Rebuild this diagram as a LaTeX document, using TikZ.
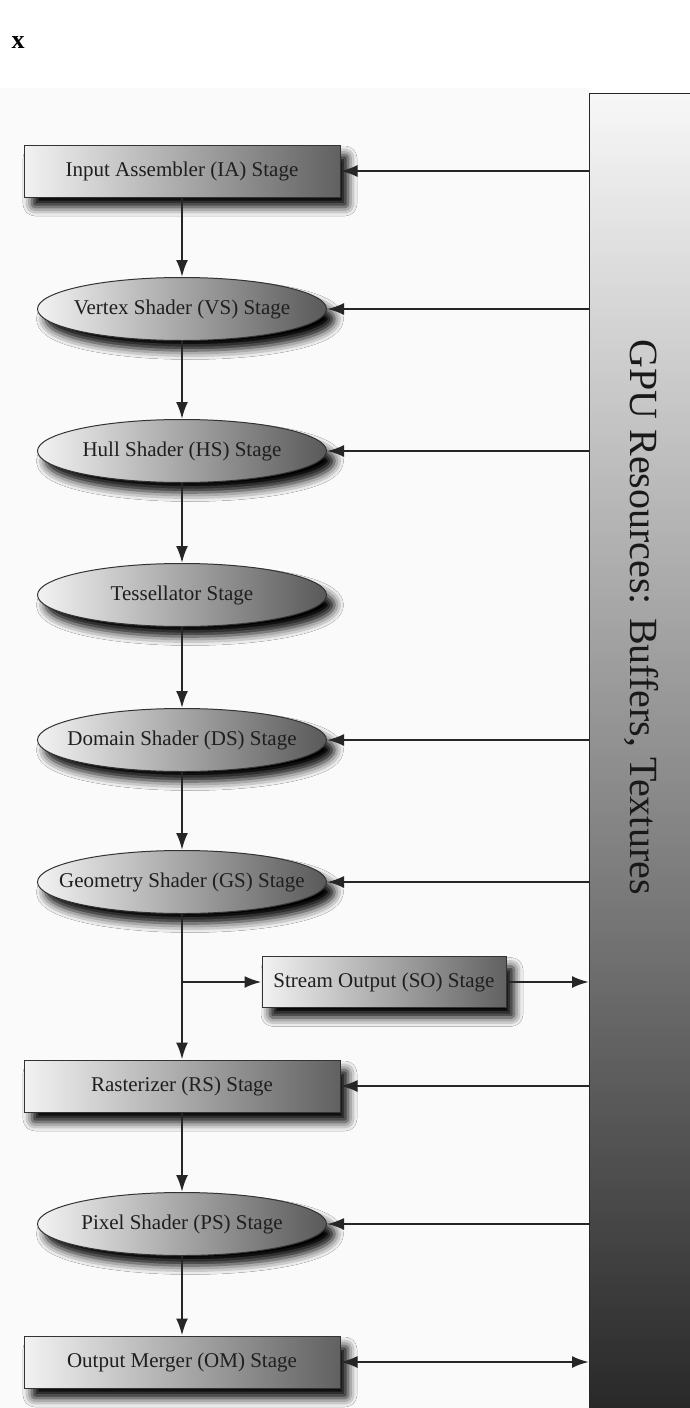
\documentclass[tikz,border=0pt]{standalone}
\usepackage{fontspec}
\setmainfont{Liberation Serif}
\usetikzlibrary{shadows.blur,arrows.meta,shapes.geometric}
\newcommand{\ztext}[1]{\makebox[0pt]{#1}}
\begin{document}
\begin{tikzpicture}[x=1pt,y=-1pt,
  stagebox/.style={rectangle, draw=black!80, line width=1pt, left color=white!95!black, right color=black!62,
    minimum width=316pt, minimum height=52pt, inner sep=0pt,
    font=\fontsize{21}{24}\selectfont, text=black!88,
    blur shadow={shadow xshift=8pt, shadow yshift=-10pt, shadow blur radius=9pt, shadow opacity=100, shadow blur extra rounding=3pt}},
  stageell/.style={ellipse, draw=black!80, line width=1pt, left color=white!95!black, right color=black!65,
    minimum width=289pt, minimum height=63pt, inner sep=0pt,
    font=\fontsize{21}{24}\selectfont, text=black!88,
    blur shadow={shadow xshift=8pt, shadow yshift=-10pt, shadow blur radius=9pt, shadow opacity=100}},
  conn/.style={draw=black!85, line width=2.3pt, -{Latex[length=17pt,width=12pt]}},
  conn2/.style={draw=black!85, line width=2.3pt, {Latex[length=17pt,width=12pt]}-{Latex[length=17pt,width=12pt]}}
]
\useasboundingbox (0,0) rectangle (690,1408);
\fill[white] (0,0) rectangle (690,1408);
\fill[black!2] (0,88) rectangle (589,1408);
\node[font=\fontsize{26}{28}\selectfont\bfseries, anchor=base west] (xlab) at (8,48) {x};

\node[draw=black!85, line width=1.3pt, top color=white!97!black, bottom color=black!85,
  minimum width=111pt, minimum height=1330pt, anchor=north west, inner sep=0pt] (gpu) at (589,93) {};
\node[rotate=-90, font=\fontsize{40}{44}\selectfont, text=black!90] (gputext) at (641,617) {GPU Resources: Buffers, Textures};

\node[stagebox] (ia) at (182,171) {Input Assembler (IA) Stage};
\node[stageell] (vs) at (182,309) {\ztext{Vertex Shader (VS) Stage}};
\node[stageell] (hs) at (182,451) {\ztext{Hull Shader (HS) Stage}};
\node[stageell] (ts) at (182,595) {\ztext{Tessellator Stage}};
\node[stageell] (ds) at (182,740) {\ztext{Domain Shader (DS) Stage}};
\node[stageell] (gs) at (182,882) {\ztext{Geometry Shader (GS) Stage}};
\node[stagebox, minimum width=244pt, minimum height=51pt] (so) at (384,982) {\ztext{Stream Output (SO) Stage}};
\node[stagebox] (rs) at (182,1086) {Rasterizer (RS) Stage};
\node[stageell] (ps) at (182,1224) {\ztext{Pixel Shader (PS) Stage}};
\node[stagebox] (om) at (182,1362) {Output Merger (OM) Stage};

\coordinate (br) at (182,982);

\draw[conn] (ia) -- (vs);
\draw[conn] (vs) -- (hs);
\draw[conn] (hs) -- (ts);
\draw[conn] (ts) -- (ds);
\draw[conn] (ds) -- (gs);
\draw[conn] (gs) -- (rs);
\draw[conn] (br) -- (so);
\draw[conn] (rs) -- (ps);
\draw[conn] (ps) -- (om);

\draw[conn] (ia.east -| gpu.west) -- (ia.east);
\draw[conn] (vs.east -| gpu.west) -- (vs.east);
\draw[conn] (hs.east -| gpu.west) -- (hs.east);
\draw[conn] (ds.east -| gpu.west) -- (ds.east);
\draw[conn] (gs.east -| gpu.west) -- (gs.east);
\draw[conn] (rs.east -| gpu.west) -- (rs.east);
\draw[conn] (ps.east -| gpu.west) -- (ps.east);
\draw[conn] (so.east) -- (so.east -| gpu.west);
\draw[conn2] (om.east) -- (om.east -| gpu.west);
\end{tikzpicture}
\end{document}
